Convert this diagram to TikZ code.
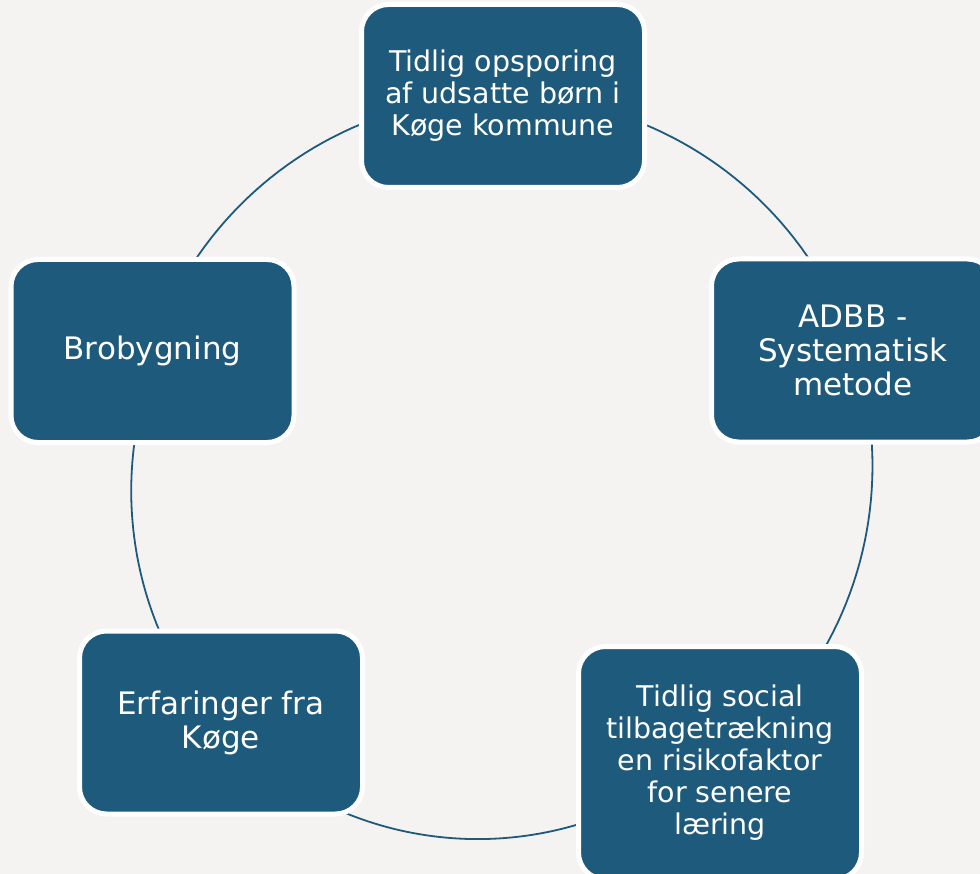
\documentclass[tikz,border=0pt]{standalone}
\usepackage{fontspec}
\setmainfont{DejaVu Sans}
\definecolor{bg}{HTML}{F4F3F1}
\definecolor{boxblue}{HTML}{1E5A7C}
\definecolor{lineblue}{HTML}{1E5A7C}
\begin{document}
\begin{tikzpicture}[x=1pt,y=-1pt,
  box/.style={draw=white, line width=5pt, fill=boxblue, rounded corners=27pt,
    text=white, align=center, minimum width=283pt, minimum height=183pt, inner sep=0pt},
  bigtxt/.style={font=\fontsize{31}{34}\selectfont},
  smalltxt/.style={font=\fontsize{28.5}{32}\selectfont},
  cyc/.style={draw=lineblue, line width=1.8pt}]
\fill[bg] (0,0) rectangle (980,874);
\useasboundingbox (0,0) rectangle (980,874);
\clip (0,0) rectangle (980,874);

% centres of the connector arcs
\coordinate (c1) at (502.5,466);
\coordinate (c2) at (493.4,490.8);
\coordinate (c3) at (477.8,489.8);

% top-left, top-right and right arcs (one circle)
\draw[cyc] plot[domain=198:395, samples=120, variable=\t]
  ({502.5+370*cos(\t)},{466+370*sin(\t)});
% left arc
\draw[cyc] plot[domain=150:192, samples=40, variable=\t]
  ({493.4+362.2*cos(\t)},{490.8+362.2*sin(\t)});
% bottom arc
\draw[cyc] plot[domain=65:118, samples=50, variable=\t]
  ({477.8+349.3*cos(\t)},{489.8+349.3*sin(\t)});

\node[box, smalltxt] (top) at (503,96) {Tidlig opsporing\\af udsatte børn i\\Køge kommune};
\node[box, bigtxt] (right) at (853,350.5) {ADBB -\\Systematisk\\metode};
\node[box, smalltxt, minimum height=233pt] (botright) at (720,763) {Tidlig social\\tilbagetrækning\\en risikofaktor\\for senere\\læring};
\node[box, bigtxt] (botleft) at (221,722.5) {Erfaringer fra\\Køge};
\node[box, bigtxt] (left) at (152.5,351) {Brobygning};
\end{tikzpicture}
\end{document}
